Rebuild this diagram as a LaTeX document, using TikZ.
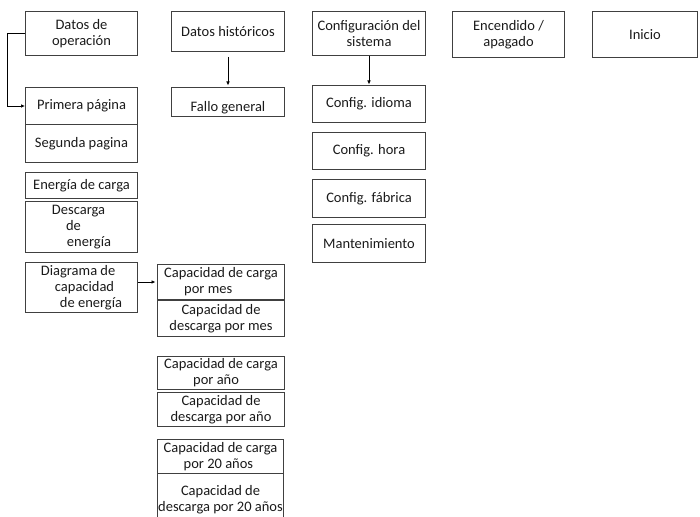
\documentclass[tikz,border=0pt]{standalone}
\usepackage{fontspec}
\setmainfont{Carlito}
\usetikzlibrary{arrows.meta}
\definecolor{boxline}{HTML}{404040}
\definecolor{txt}{HTML}{1A1A1A}
\tikzset{
  bx/.style={draw=boxline, line width=1pt, inner sep=0pt, anchor=north west,
    text=txt, font=\fontsize{14.5}{16}\selectfont, align=center},
  sz/.style 2 args={minimum width=#1pt, minimum height=#2pt},
  arr/.style={draw=black, line width=0.7pt, -{Latex[length=4pt,width=3.5pt]}}
}
\begin{document}
\begin{tikzpicture}[x=1pt,y=-1pt]
\clip (0,0) rectangle (700,516);
% top row
\node[bx, sz={112}{44}] (op) at (25,11) {Datos de\\operación};
\node[bx, sz={113}{40}] (hist) at (171,11) {Datos históricos};
\node[bx, sz={113}{44}] (conf) at (312,11) {Configuración del\\sistema};
\node[bx, sz={112}{46}] (enc) at (452,11) {Encendido /\\apagado};
\node[bx, sz={105}{46}] (ini) at (592,11) {Inicio};
% second column
\node[bx, sz={113}{29}] (fallo) at (171,87) {\raisebox{-6pt}[\height][\depth]{Fallo general}};
% first column
\node[bx, sz={112}{37}] (prim) at (25,87) {Primera página};
\node[bx, sz={112}{38}] (seg) at (25,124) {Segunda pagina};
\node[bx, sz={112}{26}] (ecarga) at (25,172) {Energía de carga};
\node[bx, sz={112}{51}, align=left] (desc) at (25,201) {Descarga\\\hspace*{14pt}de\\\hspace*{15pt}energía};
\node[bx, sz={112}{50}, align=left] (diag) at (25,262) {Diagrama de\\\hspace*{14pt}capacidad\\\hspace*{19pt}de energía};
% capacity column
\node[bx, sz={127}{35}, align=left] (cmes) at (157,264) {Capacidad de carga\\\hspace*{20pt}por mes};
\node[bx, sz={127}{36}] (dmes) at (157,300) {Capacidad de\\descarga por mes};
\node[bx, sz={127}{33}, align=left] (cano) at (157,356) {Capacidad de carga\\\hspace*{29pt}por año};
\node[bx, sz={127}{34}] (dano) at (157,392) {Capacidad de\\descarga por año};
\node[bx, sz={126}{34}, align=left] (c20) at (157,439) {Capacidad de carga\\\hspace*{20pt}por 20 años};
\node[bx, sz={126}{52}] (d20) at (157,473) {Capacidad de\\descarga por 20 años};
% config column
\node[bx, sz={113}{37}] (idioma) at (312,85) {Config. idioma};
\node[bx, sz={113}{37}] (hora) at (312,132) {Config. hora};
\node[bx, sz={113}{38}] (fabrica) at (312,179) {Config. fábrica};
\node[bx, sz={113}{38}] (mant) at (312,224) {Mantenimiento};
% connectors
\draw[arr] (op.west) -- ++(-18,0) |- (prim.west);
\draw[arr, shorten >=1.5pt] ([yshift=-5pt]hist.south) -- (fallo.north);
\draw[arr, shorten >=0.5pt] (conf.south) -- (idioma.north);
\draw[arr, shorten >=1.5pt] (diag.east |- cmes.west) -- (cmes.west);
\end{tikzpicture}
\end{document}
